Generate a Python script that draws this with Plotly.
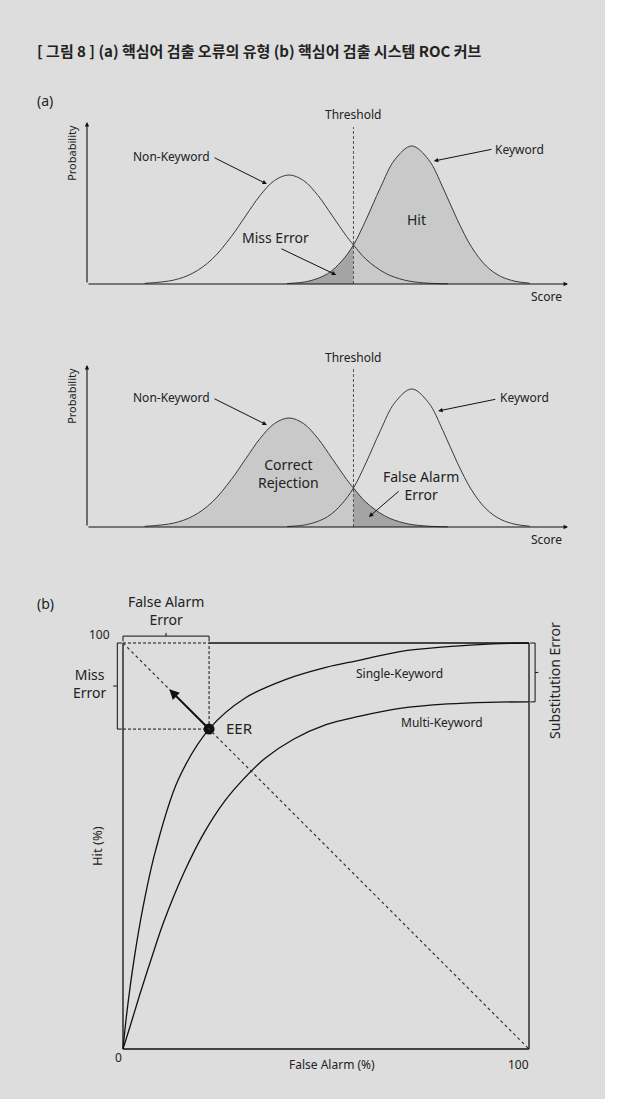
import plotly.graph_objects as go

W, H = 626, 1099

# ---- Panel (a): score distributions (probability vs. score) ----
nk_score = [12, 18, 22, 26, 30, 33, 36, 39, 42, 45, 48, 51, 54, 55.4, 58, 62, 66, 70, 75]
nk_prob = [0.004, 0.024, 0.067, 0.153, 0.293, 0.421, 0.547, 0.639, 0.673, 0.639,
           0.547, 0.421, 0.293, 0.241, 0.153, 0.067, 0.024, 0.007, 0.001]
kw_score = [41.6, 46, 50, 53, 55.4, 58, 61, 64, 67.5, 71, 74, 77, 80, 83, 86, 89, 92]
kw_prob = [0.003, 0.017, 0.063, 0.143, 0.241, 0.396, 0.595, 0.768, 0.852, 0.768,
           0.595, 0.396, 0.226, 0.111, 0.047, 0.017, 0.005]
threshold = 55.4

# ---- Panel (b): ROC curves (hit % vs. false alarm %) ----
single_fa = [0, 1, 2.7, 5, 8, 13.6, 21.2, 30, 40, 50, 58.4, 68.2, 80, 91, 100]
single_hit = [0, 9.4, 21.9, 35.3, 48.8, 66.3, 78.8, 86.4, 91.0, 94.0, 95.8, 97.9, 99.1, 99.8, 100]
multi_fa = [0, 2, 4, 6.9, 10, 15, 20, 25, 29.5, 35, 42, 50, 58.4, 68.2, 80, 90, 100]
multi_hit = [0, 6.4, 13.0, 22.0, 31.2, 43.4, 53.3, 61.0, 66.3, 71.6, 76.3, 79.9, 82.0, 83.9,
             85.0, 85.4, 85.5]
eer_fa, eer_hit = 21.2, 78.8
multi_top = multi_hit[-1]

BG = "#dcdddc"
LIGHT = "#c8c9c8"
DARK = "#a3a4a3"
CURVE = "#3a3a3a"
INK = "#111111"
FONT = "Noto Sans"


def lin(p, p0, v0, p1, v1):
    return v0 + (p - p0) * (v1 - v0) / (p1 - p0)


def xaxis_px(p0, v0, p1, v1, lo, hi):
    return dict(domain=[lo / W, hi / W], range=[lin(lo, p0, v0, p1, v1), lin(hi, p0, v0, p1, v1)],
                visible=False, fixedrange=True)


def yaxis_px(p0, v0, p1, v1, top, bot):
    return dict(domain=[1 - bot / H, 1 - top / H], range=[lin(bot, p0, v0, p1, v1), lin(top, p0, v0, p1, v1)],
                visible=False, fixedrange=True)


fig = go.Figure()

panels = [("x", "y", "kw"), ("x2", "y2", "nk")]
for xa, ya, shaded in panels:
    if shaded == "kw":
        xs, ys = kw_score, kw_prob
    else:
        xs, ys = nk_score, nk_prob
    lx = [s for s in xs if s <= threshold]
    ly = [p for s, p in zip(xs, ys) if s <= threshold]
    rx = [s for s in xs if s >= threshold]
    ry = [p for s, p in zip(xs, ys) if s >= threshold]
    left_col, right_col = (DARK, LIGHT) if shaded == "kw" else (LIGHT, DARK)
    fig.add_trace(go.Scatter(x=lx, y=ly, mode="lines", line=dict(width=0, shape="spline"),
                             fill="tozeroy", fillcolor=left_col, xaxis=xa, yaxis=ya,
                             hoverinfo="skip", showlegend=False))
    fig.add_trace(go.Scatter(x=rx, y=ry, mode="lines", line=dict(width=0, shape="spline"),
                             fill="tozeroy", fillcolor=right_col, xaxis=xa, yaxis=ya,
                             hoverinfo="skip", showlegend=False))
    for cx, cy in ((nk_score, nk_prob), (kw_score, kw_prob)):
        fig.add_trace(go.Scatter(x=cx, y=cy, mode="lines", line=dict(color=CURVE, width=1, shape="spline"),
                                 xaxis=xa, yaxis=ya, hoverinfo="skip", showlegend=False))

# ROC curves
for fx, hy in ((single_fa, single_hit), (multi_fa, multi_hit)):
    fig.add_trace(go.Scatter(x=fx, y=hy, mode="lines", line=dict(color=INK, width=1.3, shape="spline"),
                             xaxis="x3", yaxis="y3", hoverinfo="skip", showlegend=False))
fig.add_trace(go.Scatter(x=[eer_fa], y=[eer_hit], mode="markers", marker=dict(color=INK, size=11),
                         xaxis="x3", yaxis="y3", hoverinfo="skip", showlegend=False))

shapes = [dict(type="rect", xref="paper", yref="paper", x0=0, x1=605 / W, y0=0, y1=1,
               fillcolor=BG, line=dict(width=0), layer="below")]
ann = []


def text(x, y, s, xr, yr, size=12, **kw):
    ann.append(dict(x=x, y=y, xref=xr, yref=yr, text=s, showarrow=False,
                    font=dict(family=FONT, size=size, color="#222"), **kw))


def arrow(x0, y0, x1, y1, xr, yr, width=1, head=2, size=0.9, color=INK):
    ann.append(dict(x=x1, y=y1, ax=x0, ay=y0, xref=xr, yref=yr, axref=xr, ayref=yr, text="",
                    showarrow=True, arrowhead=head, arrowsize=size, arrowwidth=width,
                    arrowcolor=color, standoff=0, startstandoff=0))


# Panel (a) axes, threshold and labels
for xa, ya, top in (("x", "y", 0.969), ("x2", "y2", 0.975)):
    arrow(0, 0, 100, 0, xa, ya, width=1.1, size=0.8)
    arrow(0, 0, 0, 1, xa, ya, width=1.1, size=0.8)
    shapes.append(dict(type="line", xref=xa, yref=ya, x0=threshold, x1=threshold, y0=0, y1=top,
                       line=dict(color="#555", width=1, dash="3px,2px")))
    text(threshold, 1.049, "Threshold", xa, ya, size=12)
    text(95.6, -0.08, "Score", xa, ya, size=12)
    text(-3.1, 0.81, "Probability", xa, ya, size=11, textangle=-90)

# top panel
text(17.5, 0.79, "Non-Keyword", "x", "y")
arrow(26.2, 0.784, 37.4, 0.617, "x", "y")
text(89.9, 0.833, "Keyword", "x", "y")
arrow(84.4, 0.833, 72.1, 0.759, "x", "y")
text(68.6, 0.401, "Hit", "x", "y", size=14)
text(39.1, 0.284, "Miss Error", "x", "y", size=14)
arrow(40.1, 0.222, 51.8, 0.056, "x", "y")

# bottom panel
text(17.5, 0.802, "Non-Keyword", "x2", "y2")
arrow(26.2, 0.796, 37.4, 0.630, "x2", "y2")
text(91.0, 0.802, "Keyword", "x2", "y2")
arrow(85.2, 0.790, 73.0, 0.716, "x2", "y2")
text(41.8, 0.33, "Correct<br>Rejection", "x2", "y2", size=14)
text(69.4, 0.259, "False Alarm<br>Error", "x2", "y2", size=14)
arrow(65.1, 0.228, 58.6, 0.062, "x2", "y2")

# Panel (b) frame
blk = dict(color=INK, width=1.3)
for x0, y0, x1, y1 in ((0, 0, 0, 100), (0, 0, 100, 0), (100, 0, 100, 100), (eer_fa, 100, 100, 100)):
    shapes.append(dict(type="line", xref="x3", yref="y3", x0=x0, y0=y0, x1=x1, y1=y1, line=blk))
dsh = dict(color=INK, width=1, dash="3px,2px")
for x0, y0, x1, y1 in ((0, 100, eer_fa, 100), (eer_fa, eer_hit, eer_fa, 100), (0, eer_hit, eer_fa, eer_hit)):
    shapes.append(dict(type="line", xref="x3", yref="y3", x0=x0, y0=y0, x1=x1, y1=y1, line=dsh))
shapes.append(dict(type="line", xref="x3", yref="y3", x0=0, y0=100, x1=100, y1=0,
                   line=dict(color="#333", width=1.2, dash="dot")))

# brackets
br = dict(color=INK, width=1)


def seg(x0, y0, x1, y1):
    shapes.append(dict(type="line", xref="x3", yref="y3", x0=x0, y0=y0, x1=x1, y1=y1, line=br))


# false alarm error bracket (top)
seg(0, 101.7, eer_fa, 101.7); seg(0, 101.7, 0, 100.4); seg(eer_fa, 101.7, eer_fa, 100.4)
seg(eer_fa / 2, 101.7, eer_fa / 2, 102.5)
# miss error bracket (left)
seg(-1.4, eer_hit, -1.4, 100); seg(-1.4, eer_hit, -0.3, eer_hit); seg(-1.4, 100, -0.3, 100)
seg(-1.4, (eer_hit + 100) / 2, -2.4, (eer_hit + 100) / 2)
# substitution error bracket (right)
seg(101.5, multi_top, 101.5, 100); seg(100.3, multi_top, 101.5, multi_top); seg(100.3, 100, 101.5, 100)
seg(101.5, (multi_top + 100) / 2, 102.3, (multi_top + 100) / 2)

arrow(eer_fa, eer_hit, 11.4, 88.6, "x3", "y3", width=2, head=2, size=1.0)

text(28.6, 79.1, "EER", "x3", "y3", size=15)
text(10.6, 108.1, "False Alarm<br>Error", "x3", "y3", size=14)
text(-8.1, 90.0, "Miss<br>Error", "x3", "y3", size=14)
text(106.4, 90.9, "Substitution Error", "x3", "y3", size=14, textangle=-90)
text(68.0, 92.4, "Single-Keyword", "x3", "y3", size=12)
text(78.6, 80.3, "Multi-Keyword", "x3", "y3", size=12)
text(-6.4, 50, "Hit (%)", "x3", "y3", size=13, textangle=-90)
text(-5.9, 102.2, "100", "x3", "y3", size=12)
text(-1.2, -2.2, "0", "x3", "y3", size=12)
text(97.5, -3.9, "100", "x3", "y3", size=12)
text(51.5, -3.9, "False Alarm (%)", "x3", "y3", size=12)

# title and panel tags
ann.append(dict(x=35 / W, y=1 - 50 / H, xref="paper", yref="paper", xanchor="left", yanchor="middle",
                showarrow=False,
                text="<b>[ 그림 8 ] (a) 핵심어 검출 오류의 유형 (b) 핵심어 검출 시스템 ROC 커브</b>",
                font=dict(family="Noto Sans CJK KR", size=15, color="#222")))
for tag, py in (("(a)", 100), ("(b)", 603)):
    ann.append(dict(x=35 / W, y=1 - py / H, xref="paper", yref="paper", xanchor="left", yanchor="middle",
                    showarrow=False, text=tag, font=dict(family=FONT, size=14, color="#222")))

fig.update_layout(
    width=W, height=H, margin=dict(l=0, r=0, t=0, b=0),
    paper_bgcolor="white", plot_bgcolor="rgba(0,0,0,0)",
    shapes=shapes, annotations=ann, showlegend=False,
    xaxis=xaxis_px(87, 0, 568, 100, 40, 600),
    yaxis=yaxis_px(284, 0, 122, 1, 95, 310),
    xaxis2=xaxis_px(87, 0, 568, 100, 40, 600),
    yaxis2=yaxis_px(527, 0, 365, 1, 338, 553),
    xaxis3=xaxis_px(123, 0, 529, 100, 40, 600),
    yaxis3=yaxis_px(1049, 0, 643, 100, 590, 1080),
)

fig.write_html("out.html")
